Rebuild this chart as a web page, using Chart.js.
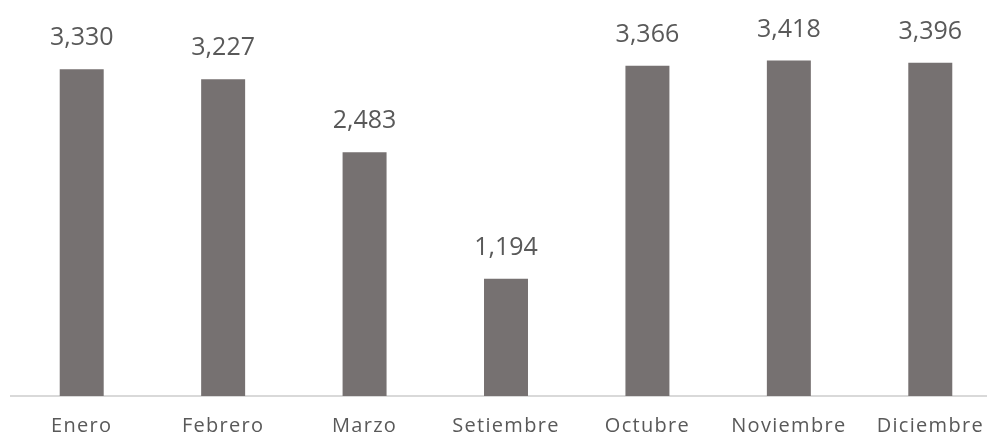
<!DOCTYPE html>
<html>
<head>
<meta charset="utf-8">
<script src="https://cdn.jsdelivr.net/npm/chart.js@4/dist/chart.umd.min.js"></script>
<style>
  html, body { margin: 0; padding: 0; background: #fff; overflow: hidden; }
  #wrap { width: 1010px; height: 440px; }
</style>
</head>
<body>
<div id="wrap"><canvas id="barChart"></canvas></div>
<script>
// Values
const months = ['Enero', 'Febrero', 'Marzo', 'Setiembre', 'Octubre', 'Noviembre', 'Diciembre'];
const totals = [3330, 3227, 2483, 1194, 3366, 3418, 3396];

const barColor = '#767171';
const labelColor = '#595959';

// value labels above each bar
const valueLabels = {
  id: 'valueLabels',
  afterDatasetsDraw(chart) {
    const ctx = chart.ctx;
    const meta = chart.getDatasetMeta(0);
    ctx.save();
    ctx.letterSpacing = '0px';
    ctx.font = '25px "Open Sans"';
    ctx.fillStyle = labelColor;
    ctx.textAlign = 'center';
    ctx.textBaseline = 'middle';
    meta.data.forEach((bar, i) => {
      ctx.fillText(totals[i].toLocaleString('en-US'), bar.x, bar.y - 31);
    });
    ctx.restore();
  }
};

// Excel-style spaced axis text
const spacing = {
  id: 'spacing',
  beforeDraw(chart) {
    chart.ctx.letterSpacing = '1.3px';
  }
};

const ctx = document.getElementById('barChart').getContext('2d');
const barChart = new Chart(ctx, {
  type: 'bar',
  data: {
    labels: months,
    datasets: [{
      data: totals,
      backgroundColor: barColor,
      borderWidth: 0,
      categoryPercentage: 1,
      barPercentage: 0.311
    }]
  },
  options: {
    responsive: true,
    maintainAspectRatio: false,
    animation: false,
    layout: { padding: { left: 11, right: 9, top: 0, bottom: -16 } },
    plugins: {
      legend: { display: false },
      tooltip: { enabled: false }
    },
    scales: {
      x: {
        grid: { display: false, drawTicks: false },
        border: { display: true, color: '#d9d9d9', width: 2 },
        ticks: {
          autoSkip: false,
          maxRotation: 0,
          padding: 18,
          color: labelColor,
          font: { family: 'Open Sans', size: 20 }
        }
      },
      y: {
        display: false,
        min: 0,
        max: 4035
      }
    }
  },
  plugins: [spacing, valueLabels]
});
</script>
</body>
</html>
